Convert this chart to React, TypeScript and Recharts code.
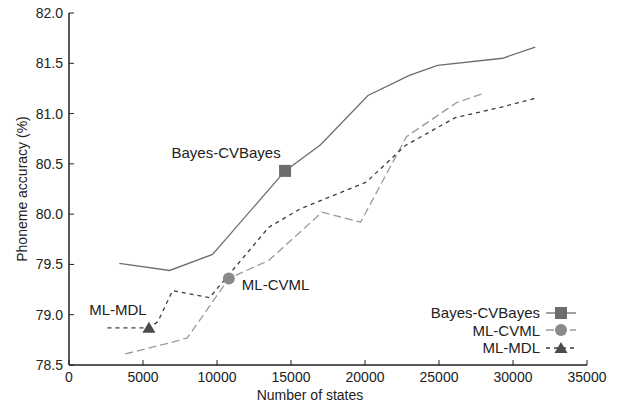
import React from "react";
import { Legend, Line, LineChart, XAxis, YAxis } from "recharts";

const bayesX = [3400, 6800, 9700, 14600, 17000, 20200, 23000, 24900, 29300, 31500];
const bayesY = [79.51, 79.44, 79.6, 80.43, 80.69, 81.18, 81.38, 81.48, 81.55, 81.66];

const cvmlX = [3800, 6800, 8000, 10800, 13500, 17100, 19700, 22800, 26200, 28000];
const cvmlY = [78.61, 78.72, 78.77, 79.36, 79.54, 80.02, 79.92, 80.77, 81.11, 81.2];

const mdlX = [2600, 5400, 6000, 7000, 9500, 13500, 15600, 20100, 22700, 26100, 29100, 31700];
const mdlY = [78.87, 78.87, 78.93, 79.24, 79.17, 79.87, 80.05, 80.32, 80.68, 80.96, 81.06, 81.16];

const xTicks = [0, 5000, 10000, 15000, 20000, 25000, 30000, 35000];
const yTicks = [78.5, 79.0, 79.5, 80.0, 80.5, 81.0, 81.5, 82.0];

const toPoints = (xs: number[], ys: number[]) => xs.map((x, i) => ({ x, y: ys[i] }));

const bayes = toPoints(bayesX, bayesY);
const cvml = toPoints(cvmlX, cvmlY);
const mdl = toPoints(mdlX, mdlY);

const FONT = "'Liberation Sans', Arial, sans-serif";
const AXIS = "#222";

type Shape = "square" | "circle" | "triangle";

const Marker = ({ shape, cx, cy, color }: { shape: Shape; cx: number; cy: number; color: string }) => {
  if (shape === "square") return <rect x={cx - 6} y={cy - 6} width={12} height={12} fill={color} />;
  if (shape === "circle") return <circle cx={cx} cy={cy} r={6} fill={color} />;
  return <polygon points={`${cx},${cy - 6} ${cx + 6.5},${cy + 5} ${cx - 6.5},${cy + 5}`} fill={color} />;
};

// one marked point per series, with its label next to it
const makeDot =
  (mark: number, shape: Shape, color: string, label: string, dx: number, dy: number, anchor: string) =>
  (props: any) => {
    const { cx, cy, index } = props;
    if (index !== mark) return <g key={`d-${index}`} />;
    return (
      <g key={`d-${index}`}>
        <Marker shape={shape} cx={cx} cy={cy} color={color} />
        <text
          x={cx + dx}
          y={cy + dy}
          textAnchor={anchor as any}
          dominantBaseline="central"
          fontSize={15}
          fontFamily={FONT}
          fill="#222"
        >
          {label}
        </text>
      </g>
    );
  };

const legendRows = [
  { name: "Bayes-CVBayes", shape: "square" as Shape, color: "#6d6d6d", mcolor: "#6d6d6d", dash: undefined },
  { name: "ML-CVML", shape: "circle" as Shape, color: "#9a9a9a", mcolor: "#8a8a8a", dash: "8 4" },
  { name: "ML-MDL", shape: "triangle" as Shape, color: "#3c3c3c", mcolor: "#4a4a4a", dash: "4 4" },
];

const LegendBox = () => (
  <div style={{ fontFamily: FONT, fontSize: 15, color: "#222" }}>
    {legendRows.map((r) => (
      <div key={r.name} style={{ display: "flex", justifyContent: "flex-end", alignItems: "center", height: 17.5 }}>
        <span style={{ marginRight: 6 }}>{r.name}</span>
        <svg width={30} height={16}>
          <line x1={0} y1={8} x2={30} y2={8} stroke={r.color} strokeWidth={1.3} strokeDasharray={r.dash} />
          <Marker shape={r.shape} cx={15} cy={8} color={r.mcolor} />
        </svg>
      </div>
    ))}
  </div>
);

const App = () => {
  return (
    <div style={{ position: "absolute", left: 0, top: 0, background: "#fff" }}>
      <LineChart width={621} height={403} margin={{ top: 13, right: 34, left: 0, bottom: 0 }}>
        <XAxis
          dataKey="x"
          type="number"
          domain={[0, 35000]}
          ticks={xTicks}
          allowDataOverflow
          height={38}
          axisLine={{ stroke: AXIS, strokeWidth: 1.5 }}
          tickLine={{ stroke: AXIS }}
          tickSize={-5}
          tickMargin={12}
          tick={{ fill: "#222", fontSize: 14, fontFamily: FONT }}
          label={{
            content: ({ viewBox }: any) => (
              <text
                x={viewBox.x + viewBox.width / 2 - 18}
                y={400}
                textAnchor="middle"
                fontSize={14}
                fontFamily={FONT}
                fill="#222"
              >
                Number of states
              </text>
            ),
          }}
        />
        <XAxis
          xAxisId="top"
          orientation="top"
          type="number"
          domain={[0, 35000]}
          ticks={xTicks}
          height={0}
          mirror
          axisLine={{ stroke: AXIS, strokeWidth: 1.5 }}
          tickLine={{ stroke: AXIS }}
          tickSize={5}
          tickFormatter={() => ""}
        />
        <YAxis
          type="number"
          domain={[78.5, 82]}
          ticks={yTicks}
          allowDataOverflow
          width={69}
          axisLine={{ stroke: AXIS, strokeWidth: 1.5 }}
          tickLine={{ stroke: AXIS }}
          tickSize={-5}
          tickMargin={11}
          tickFormatter={(v: number) => v.toFixed(1)}
          tick={{ fill: "#222", fontSize: 14, fontFamily: FONT }}
          label={{
            content: ({ viewBox }: any) => {
              const cy = viewBox.y + viewBox.height / 2;
              return (
                <text
                  x={22}
                  y={cy}
                  transform={`rotate(-90, 22, ${cy})`}
                  textAnchor="middle"
                  dominantBaseline="central"
                  fontSize={14}
                  fontFamily={FONT}
                  fill="#222"
                >
                  Phoneme accuracy (%)
                </text>
              );
            },
          }}
        />
        <YAxis
          yAxisId="right"
          orientation="right"
          type="number"
          domain={[78.5, 82]}
          ticks={yTicks}
          width={0}
          mirror
          axisLine={{ stroke: AXIS, strokeWidth: 1.5 }}
          tickLine={{ stroke: AXIS }}
          tickSize={5}
          tickFormatter={() => ""}
        />
        <Legend
          layout="horizontal"
          verticalAlign="middle"
          align="center"
          content={() => <LegendBox />}
          wrapperStyle={{ left: 380, top: 304, width: 196, height: 56 }}
        />
        <Line
          data={bayes}
          dataKey="y"
          name="Bayes-CVBayes"
          stroke="#6d6d6d"
          strokeWidth={1.3}
          dot={makeDot(3, "square", "#6d6d6d", "Bayes-CVBayes", -59, -18, "middle")}
          activeDot={false}
          isAnimationActive={false}
        />
        <Line
          data={cvml}
          dataKey="y"
          name="ML-CVML"
          stroke="#9a9a9a"
          strokeWidth={1.3}
          strokeDasharray="8 4"
          dot={makeDot(3, "circle", "#8a8a8a", "ML-CVML", 13, 6, "start")}
          activeDot={false}
          isAnimationActive={false}
        />
        <Line
          data={mdl}
          dataKey="y"
          name="ML-MDL"
          stroke="#3c3c3c"
          strokeWidth={1.3}
          strokeDasharray="4 4"
          dot={makeDot(1, "triangle", "#4a4a4a", "ML-MDL", -31, -18, "middle")}
          activeDot={false}
          isAnimationActive={false}
        />
      </LineChart>
    </div>
  );
};

export default App;
